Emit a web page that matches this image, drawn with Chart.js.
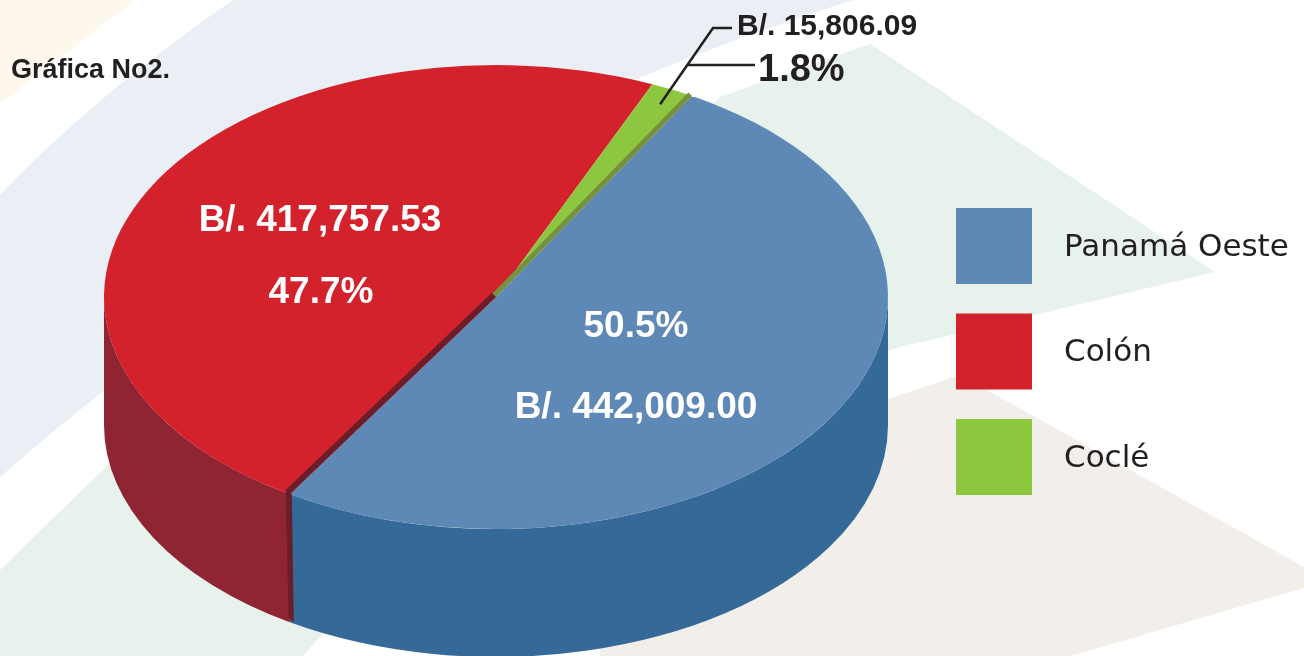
<!DOCTYPE html>
<html>
<head>
<meta charset="utf-8">
<script src="https://cdn.jsdelivr.net/npm/chart.js@4.4.1/dist/chart.umd.min.js"></script>
<style>
  html, body { margin: 0; padding: 0; background: #fff; overflow: hidden; }
  #wrap { position: relative; width: 1304px; height: 656px; }
</style>
</head>
<body>
<div id="wrap"><canvas id="chart"></canvas></div>
<script>
// Gráfica No2: monto por provincia, pastel 3D (tapa dibujada por Chart.js,
// paredes y cortes dibujados por un plugin a partir de los arcos).
const regions = ['Panamá Oeste', 'Colón', 'Coclé'];
const amounts = [442009.00, 417757.53, 15806.09];
const topColors = ['#5e89b6', '#d3222b', '#8dc63f'];
const sideColors = ['#356a98', '#8f2432', '#6e8c36'];
const chartTitle = 'Gráfica No2.';

const INK = '#231f20';
const TAU = Math.PI * 2;
// where the squashed pie sits on the page
const PIE = { cx: 496, cy: 297, rx: 392, ry: 232, depth: 128 };

const total = amounts.reduce((a, b) => a + b, 0);
const money = (v) => 'B/. ' + v.toLocaleString('en-US', { minimumFractionDigits: 2, maximumFractionDigits: 2 });
const pct = (v) => (v / total * 100).toFixed(1) + '%';

function rimPoint(a, scale = 1, dz = 0) {
  return { x: PIE.cx + PIE.rx * scale * Math.cos(a), y: PIE.cy + PIE.ry * scale * Math.sin(a) + dz };
}

function poly(ctx, color, pts) {
  ctx.fillStyle = color;
  ctx.beginPath();
  pts.forEach(([x, y], i) => (i ? ctx.lineTo(x, y) : ctx.moveTo(x, y)));
  ctx.closePath();
  ctx.fill();
}

// soft diagonal bands behind the chart
const background = {
  id: 'background',
  beforeDraw(chart) {
    const ctx = chart.ctx;
    ctx.save();
    ctx.fillStyle = '#ffffff';
    ctx.fillRect(0, 0, chart.width, chart.height);
    poly(ctx, '#fdf7ec', [[0, 0], [135, 0], [0, 103]]);

    ctx.fillStyle = '#eaeff6';
    ctx.beginPath();
    ctx.moveTo(233, 0);
    ctx.lineTo(853, 0);
    ctx.quadraticCurveTo(369, 152, 0, 477);
    ctx.lineTo(0, 195);
    ctx.quadraticCurveTo(95, 95, 233, 0);
    ctx.fill();

    poly(ctx, '#e8f2ec', [[870, 44], [1215, 272], [900, 347], [600, 440], [560, 250], [720, 97]]);
    poly(ctx, '#e8f2ec', [[0, 570], [110, 463], [220, 380], [420, 520], [303, 656], [0, 656]]);
    poly(ctx, '#f2efea', [[870, 405], [960, 375], [1304, 567], [1304, 588], [1070, 656], [600, 656], [600, 500]]);
    ctx.restore();
  },
};

function cutStrip(ctx, angle, towards, width, color, drop) {
  const C = { x: PIE.cx, y: PIE.cy };
  const P = rimPoint(angle);
  const Q = rimPoint(towards);
  let ux = P.x - C.x, uy = P.y - C.y;
  const len = Math.hypot(ux, uy);
  ux /= len; uy /= len;
  let nx = -uy, ny = ux;
  if ((Q.x - C.x) * nx + (Q.y - C.y) * ny < 0) { nx = -nx; ny = -ny; }
  ctx.fillStyle = color;
  ctx.beginPath();
  ctx.moveTo(C.x, C.y);
  ctx.lineTo(P.x, P.y);
  ctx.lineTo(P.x + nx * width, P.y + ny * width);
  ctx.lineTo(C.x + nx * width, C.y + ny * width);
  ctx.closePath();
  ctx.fill();
  if (drop) {
    const x0 = Math.min(P.x, P.x + nx * width);
    ctx.beginPath();
    ctx.moveTo(x0, Math.min(P.y, P.y + ny * width));
    ctx.lineTo(P.x + 2, P.y);
    ctx.lineTo(P.x + 4, P.y + drop);
    ctx.lineTo(x0 + 3, P.y + drop - 4);
    ctx.closePath();
    ctx.fill();
  }
}

const pie3d = {
  id: 'pie3d',
  beforeDatasetsDraw(chart) {
    const ctx = chart.ctx;
    const arcs = chart.getDatasetMeta(0).data;
    ctx.save();
    // side walls: only the front half (0..PI) of each slice is visible
    arcs.forEach((arc, i) => {
      for (const k of [-1, 0, 1]) {
        const a1 = Math.max(arc.startAngle, k * TAU);
        const a2 = Math.min(arc.endAngle, k * TAU + Math.PI);
        if (a2 <= a1) continue;
        const end = rimPoint(a2, 1, PIE.depth);
        ctx.fillStyle = sideColors[i];
        ctx.beginPath();
        ctx.ellipse(PIE.cx, PIE.cy, PIE.rx, PIE.ry, 0, a1, a2, false);
        ctx.lineTo(end.x, end.y);
        ctx.ellipse(PIE.cx, PIE.cy + PIE.depth, PIE.rx, PIE.ry, 0, a2, a1, true);
        ctx.closePath();
        ctx.fill();
      }
    });
    // squash Chart.js' round pie into the tilted top face
    const { x, y, outerRadius: r } = arcs[0];
    ctx.translate(PIE.cx, PIE.cy);
    ctx.scale(PIE.rx / r, PIE.ry / r);
    ctx.translate(-x, -y);
  },
  afterDatasetsDraw(chart) {
    const ctx = chart.ctx;
    ctx.restore();
    const arcs = chart.getDatasetMeta(0).data;
    const [blue, red, green] = arcs;

    // exposed cut faces between the slices
    cutStrip(ctx, red.startAngle, red.startAngle + 0.3, 6, '#6b1d29', PIE.depth);
    cutStrip(ctx, green.endAngle, green.endAngle - 0.05, 5, '#76903f', 0);

    ctx.save();
    ctx.fillStyle = '#ffffff';
    ctx.textAlign = 'center';
    ctx.textBaseline = 'alphabetic';
    ctx.font = 'bold 37px "Liberation Sans", Arial, sans-serif';
    ctx.fillText(money(amounts[1]), 320, 231);
    ctx.fillText(pct(amounts[1]), 321, 303);
    ctx.fillText(pct(amounts[0]), 636, 337);
    ctx.fillText(money(amounts[0]), 636, 418);

    // small slice: leader lines + outside labels
    const mid = (green.startAngle + green.endAngle) / 2;
    const tip = rimPoint(mid, 0.93);
    ctx.strokeStyle = INK;
    ctx.lineWidth = 2.5;
    ctx.beginPath();
    ctx.moveTo(tip.x, tip.y);
    ctx.lineTo(713, 28);
    ctx.lineTo(732, 28);
    ctx.moveTo(687, 65);
    ctx.lineTo(755, 65);
    ctx.stroke();

    ctx.fillStyle = INK;
    ctx.textAlign = 'left';
    ctx.font = 'bold 30px "Liberation Sans", Arial, sans-serif';
    ctx.fillText(money(amounts[2]), 737, 35);
    ctx.font = 'bold 38px "Liberation Sans", Arial, sans-serif';
    ctx.fillText(pct(amounts[2]), 758, 81);

    ctx.font = 'bold 27px "Liberation Sans", Arial, sans-serif';
    ctx.fillText(chartTitle, 11, 78);

    // legend
    const colors = chart.data.datasets[0].backgroundColor;
    ctx.font = '31px "DejaVu Sans", sans-serif';
    chart.data.labels.forEach((label, i) => {
      const top = 208 + i * 105.5;
      ctx.fillStyle = colors[i];
      ctx.fillRect(956, top, 76, 76);
      ctx.fillStyle = INK;
      ctx.fillText(label, 1064, top + 47.5);
    });
    ctx.restore();
  },
};

new Chart(document.getElementById('chart'), {
  type: 'pie',
  data: {
    labels: regions,
    datasets: [{
      data: amounts,
      backgroundColor: topColors,
      borderWidth: 0,
      clip: false,
    }],
  },
  options: {
    responsive: true,
    maintainAspectRatio: false,
    animation: false,
    events: [],
    rotation: 30,
    plugins: {
      legend: { display: false },
      tooltip: { enabled: false },
    },
  },
  plugins: [background, pie3d],
});
</script>
</body>
</html>
